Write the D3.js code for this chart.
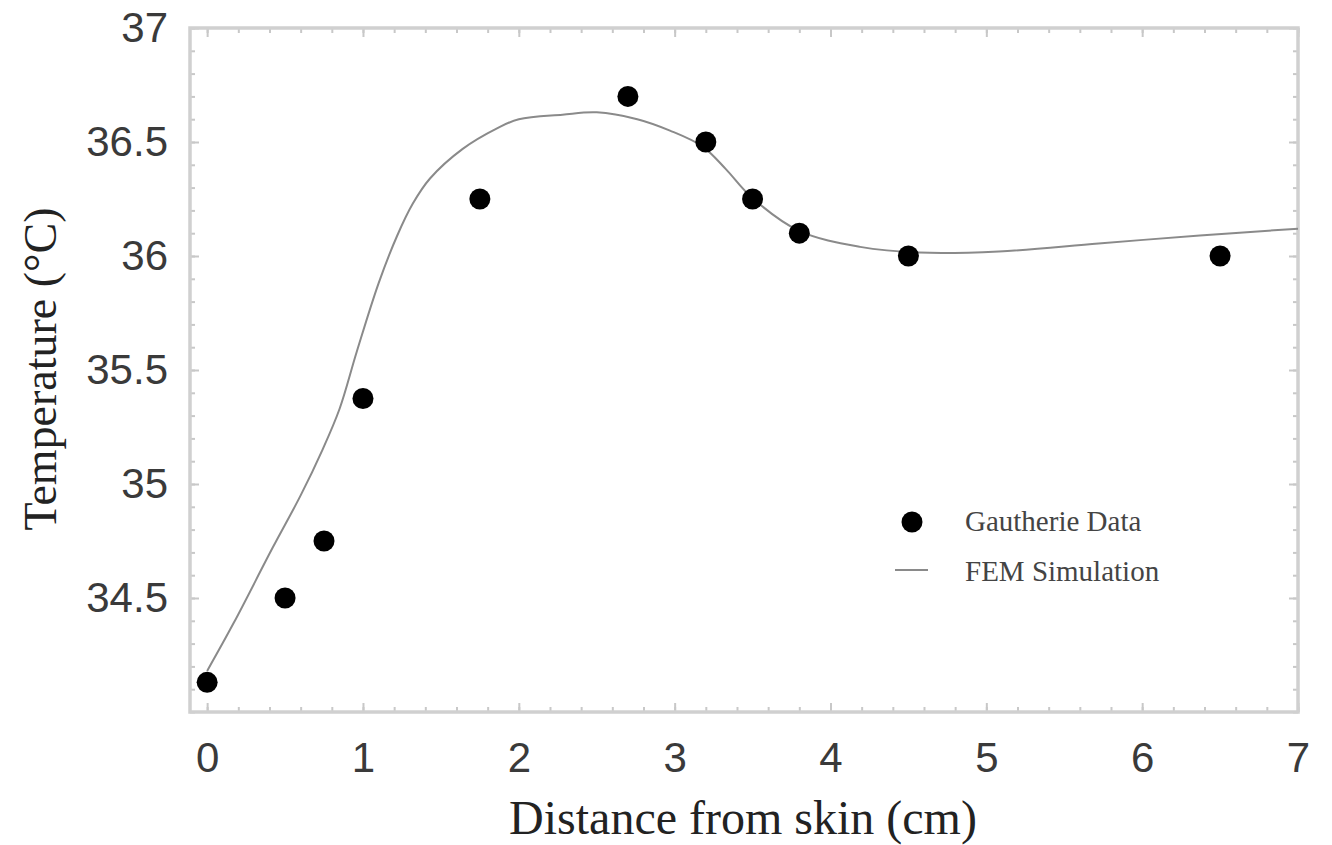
<!DOCTYPE html>
<html>
<head>
<meta charset="utf-8">
<script src="https://cdn.jsdelivr.net/npm/d3@7"></script>
<style>
  body { margin: 0; background: #fff; }
  svg { display: block; }
</style>
</head>
<body>
<div class="js-chart"></div>
<script>
// Gautherie measurements
var dataX = [0, 0.5, 0.75, 1.0, 1.75, 2.7, 3.2, 3.5, 3.8, 4.5, 6.5];
var dataT = [34.13, 34.5, 34.75, 35.375, 36.25, 36.7, 36.5, 36.25, 36.1, 36.0, 36.0];

// FEM simulation curve
var simX = [0, 0.17, 0.42, 0.6, 0.74, 0.85, 0.96, 1.1, 1.22, 1.32, 1.43, 1.64, 1.86, 2.0, 2.28, 2.5, 2.76, 2.97, 3.18, 3.33, 3.49, 3.8, 4.19, 4.57, 5.08, 5.72, 6.37, 7.0];
var simT = [34.18, 34.39, 34.72, 34.95, 35.15, 35.33, 35.58, 35.88, 36.09, 36.23, 36.34, 36.47, 36.56, 36.6, 36.62, 36.63, 36.6, 36.55, 36.48, 36.38, 36.26, 36.11, 36.04, 36.015, 36.02, 36.055, 36.09, 36.12];

var xMajor = [0, 1, 2, 3, 4, 5, 6, 7];
var yMajor = [34.5, 35, 35.5, 36, 36.5, 37];

var legendNames = ['Gautherie Data', 'FEM Simulation'];

var W = 1332, H = 845;
var pLeft = 190, pRight = 1298, pTop = 28, pBottom = 712;

var x = d3.scaleLinear().domain([-0.11, 7]).range([pLeft, pRight]);
var y = d3.scaleLinear().domain([34, 37]).range([pBottom, pTop]);

var xMinor = d3.range(0, 7.001, 0.2);
var yMinor = d3.range(34, 37.001, 0.1);

var svg = d3.select('.js-chart')
    .append('svg')
    .attr('width', W)
    .attr('height', H);

var frameColor = '#d0d0d0';
var tickFont = '"Liberation Sans", Arial, sans-serif';
var serif = '"Liberation Serif", "Times New Roman", serif';

function styleAxis(g) {
    g.select('.domain').remove();
    g.selectAll('.tick line').attr('stroke', '#c8c8c8').attr('stroke-width', 2);
}

// minor ticks on all four sides
svg.append('g').attr('transform', 'translate(0,' + pBottom + ')')
    .call(d3.axisBottom(x).tickValues(xMinor).tickSize(-5).tickFormat(''))
    .call(styleAxis);
svg.append('g').attr('transform', 'translate(0,' + pTop + ')')
    .call(d3.axisTop(x).tickValues(xMinor).tickSize(-5).tickFormat(''))
    .call(styleAxis);
svg.append('g').attr('transform', 'translate(' + pLeft + ',0)')
    .call(d3.axisLeft(y).tickValues(yMinor).tickSize(-5).tickFormat(''))
    .call(styleAxis);
svg.append('g').attr('transform', 'translate(' + pRight + ',0)')
    .call(d3.axisRight(y).tickValues(yMinor).tickSize(-5).tickFormat(''))
    .call(styleAxis);

// major ticks with labels
var xAxis = svg.append('g').attr('transform', 'translate(0,' + pBottom + ')')
    .call(d3.axisBottom(x).tickValues(xMajor).tickSize(-9).tickPadding(30).tickFormat(d3.format('d')))
    .call(styleAxis);
var yAxis = svg.append('g').attr('transform', 'translate(' + pLeft + ',0)')
    .call(d3.axisLeft(y).tickValues(yMajor).tickSize(-9).tickPadding(22).tickFormat(function(d) { return d; }))
    .call(styleAxis);
svg.append('g').attr('transform', 'translate(0,' + pTop + ')')
    .call(d3.axisTop(x).tickValues(xMajor).tickSize(-9).tickFormat(''))
    .call(styleAxis);
svg.append('g').attr('transform', 'translate(' + pRight + ',0)')
    .call(d3.axisRight(y).tickValues(yMajor).tickSize(-9).tickFormat(''))
    .call(styleAxis);

[xAxis, yAxis].forEach(function(g) {
    g.selectAll('.tick text')
        .style('font-family', tickFont)
        .style('font-size', '42px')
        .attr('fill', '#3a3a3a');
});

// frame
svg.append('rect')
    .attr('x', pLeft)
    .attr('y', pTop)
    .attr('width', pRight - pLeft)
    .attr('height', pBottom - pTop)
    .attr('fill', 'none')
    .attr('stroke', frameColor)
    .attr('stroke-width', 3.5);

// simulation curve
var line = d3.line()
    .x(function(d) { return x(d[0]); })
    .y(function(d) { return y(d[1]); })
    .curve(d3.curveCatmullRom.alpha(0.5));

svg.append('path')
    .datum(d3.zip(simX, simT))
    .attr('d', line)
    .attr('fill', 'none')
    .attr('stroke', '#8a8a8a')
    .attr('stroke-width', 2);

// measured points
svg.selectAll('circle.pt')
    .data(d3.zip(dataX, dataT))
    .enter()
    .append('circle')
        .attr('class', 'pt')
        .attr('cx', function(d) { return x(d[0]); })
        .attr('cy', function(d) { return y(d[1]); })
        .attr('r', 10.5)
        .attr('fill', '#000');

// axis titles
svg.append('text')
    .attr('x', (pLeft + pRight) / 2 - 1)
    .attr('y', 834)
    .attr('text-anchor', 'middle')
    .style('font-family', serif)
    .style('font-size', '48px')
    .attr('fill', '#222')
    .text('Distance from skin (cm)');

svg.append('text')
    .attr('transform', 'translate(56,369) rotate(-90)')
    .attr('text-anchor', 'middle')
    .style('font-family', serif)
    .style('font-size', '46px')
    .attr('fill', '#222')
    .text('Temperature (°C)');

// legend
var legend = svg.append('g');
legend.append('circle')
    .attr('cx', 912)
    .attr('cy', 522)
    .attr('r', 10.5)
    .attr('fill', '#000');
legend.append('line')
    .attr('x1', 895).attr('x2', 928)
    .attr('y1', 570).attr('y2', 570)
    .attr('stroke', '#8a8a8a')
    .attr('stroke-width', 2);
legend.selectAll('text')
    .data(legendNames)
    .enter()
    .append('text')
        .attr('x', 965)
        .attr('y', function(d, i) { return 531 + i * 50; })
        .style('font-family', serif)
        .style('font-size', '29px')
        .attr('fill', '#444')
        .text(function(d) { return d; });
</script>
</body>
</html>
